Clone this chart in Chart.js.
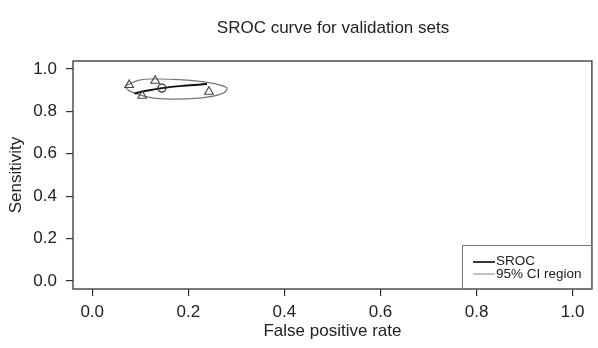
<!DOCTYPE html>
<html>
<head>
<meta charset="utf-8">
<script src="https://cdn.jsdelivr.net/npm/chart.js@4.4.0/dist/chart.umd.min.js"></script>
<style>
  html, body { margin: 0; padding: 0; background: #fff; }
</style>
</head>
<body>
<canvas id="sroc" width="598" height="348"></canvas>
<script>
const chartTitle = 'SROC curve for validation sets';
const xTitle = 'False positive rate';
const yTitle = 'Sensitivity';
const tickValues = [0, 0.2, 0.4, 0.6, 0.8, 1.0];
const legendLabels = ['SROC', '95% CI region'];

// study points (FPR, sensitivity)
const studyFpr = [0.077, 0.131, 0.104, 0.243];
const studySens = [0.925, 0.945, 0.874, 0.893];

// summary estimate
const summaryFpr = [0.145];
const summarySens = [0.910];

// SROC curve
const srocFpr = [0.088, 0.110, 0.145, 0.190, 0.239];
const srocSens = [0.885, 0.896, 0.910, 0.921, 0.929];

// 95% confidence region outline
const ciFpr = [0.069, 0.098, 0.133, 0.181, 0.236, 0.270, 0.281, 0.264, 0.222, 0.167, 0.119, 0.084, 0.072, 0.069];
const ciSens = [0.921, 0.948, 0.953, 0.950, 0.938, 0.922, 0.906, 0.879, 0.863, 0.858, 0.866, 0.890, 0.906, 0.921];

const toPoints = (xs, ys) => xs.map((x, i) => ({ x: x, y: ys[i] }));
const textColor = '#222';
const axisColor = '#333';
const font = 'Liberation Sans, Arial, sans-serif';

const framePlugin = {
  id: 'frame',
  afterDraw(chart) {
    const { ctx, chartArea: a } = chart;
    ctx.save();
    // box around plot
    ctx.strokeStyle = axisColor;
    ctx.lineWidth = 1.3;
    ctx.strokeRect(a.left, a.top, a.right - a.left, a.bottom - a.top);

    // title
    ctx.fillStyle = textColor;
    ctx.font = '17px ' + font;
    ctx.textAlign = 'center';
    ctx.textBaseline = 'middle';
    ctx.fillText(chartTitle, 333, 28);

    // legend, bottom right inside the plot
    const lx = 462.5, ly = 245.5;
    ctx.strokeStyle = '#777';
    ctx.lineWidth = 1;
    ctx.strokeRect(lx, ly, a.right - lx, a.bottom - ly);
    ctx.lineWidth = 1.8;
    ctx.strokeStyle = '#222';
    ctx.beginPath(); ctx.moveTo(473, 262); ctx.lineTo(495, 262); ctx.stroke();
    ctx.lineWidth = 1.2;
    ctx.strokeStyle = '#999';
    ctx.beginPath(); ctx.moveTo(473, 274); ctx.lineTo(495, 274); ctx.stroke();
    ctx.font = '13.5px ' + font;
    ctx.textAlign = 'left';
    ctx.fillStyle = textColor;
    ctx.fillText(legendLabels[0], 496, 261);
    ctx.fillText(legendLabels[1], 496, 274);
    ctx.restore();
  }
};

const axisOpts = (min, max, titleText) => ({
  type: 'linear',
  min: min,
  max: max,
  afterBuildTicks: s => { s.ticks = tickValues.map(v => ({ value: v })); },
  ticks: {
    callback: v => v.toFixed(1),
    color: textColor,
    font: { family: font, size: 17 },
    autoSkip: false,
    maxRotation: 0,
    padding: 6
  },
  grid: {
    drawOnChartArea: false,
    drawTicks: true,
    tickLength: 7,
    color: axisColor,
    lineWidth: 1.2
  },
  border: { display: false },
  title: {
    display: true,
    text: titleText,
    color: textColor,
    font: { family: font, size: 17 },
    padding: 6
  }
});

const xAxis = axisOpts(-0.04, 1.04, xTitle);
xAxis.afterFit = s => { s.height = 59; };
const yAxis = axisOpts(-0.038, 1.038, yTitle);
yAxis.ticks.padding = 9;
yAxis.afterFit = s => { s.width = 73; };

new Chart(document.getElementById('sroc').getContext('2d'), {
  type: 'scatter',
  data: {
    datasets: [
      {
        label: 'Study',
        data: toPoints(studyFpr, studySens),
        pointStyle: 'triangle',
        pointRadius: 5,
        backgroundColor: 'rgba(0,0,0,0)',
        borderColor: '#444',
        borderWidth: 1.1,
        order: 0
      },
      {
        label: 'Summary',
        data: toPoints(summaryFpr, summarySens),
        pointStyle: 'circle',
        pointRadius: 4,
        backgroundColor: 'rgba(0,0,0,0)',
        borderColor: '#333',
        borderWidth: 1.2,
        order: 0
      },
      {
        label: legendLabels[0],
        data: toPoints(srocFpr, srocSens),
        showLine: true,
        pointRadius: 0,
        borderColor: '#111',
        borderWidth: 2,
        tension: 0.4,
        order: 1
      },
      {
        label: legendLabels[1],
        data: toPoints(ciFpr, ciSens),
        showLine: true,
        pointRadius: 0,
        borderColor: '#777',
        borderWidth: 1.2,
        tension: 0.4,
        order: 2
      }
    ]
  },
  options: {
    responsive: false,
    animation: false,
    devicePixelRatio: 1,
    layout: { padding: { top: 61, right: 2, left: 0, bottom: 0 } },
    scales: { x: xAxis, y: yAxis },
    plugins: {
      legend: { display: false },
      title: { display: false },
      tooltip: { enabled: false }
    }
  },
  plugins: [framePlugin]
});
</script>
</body>
</html>
